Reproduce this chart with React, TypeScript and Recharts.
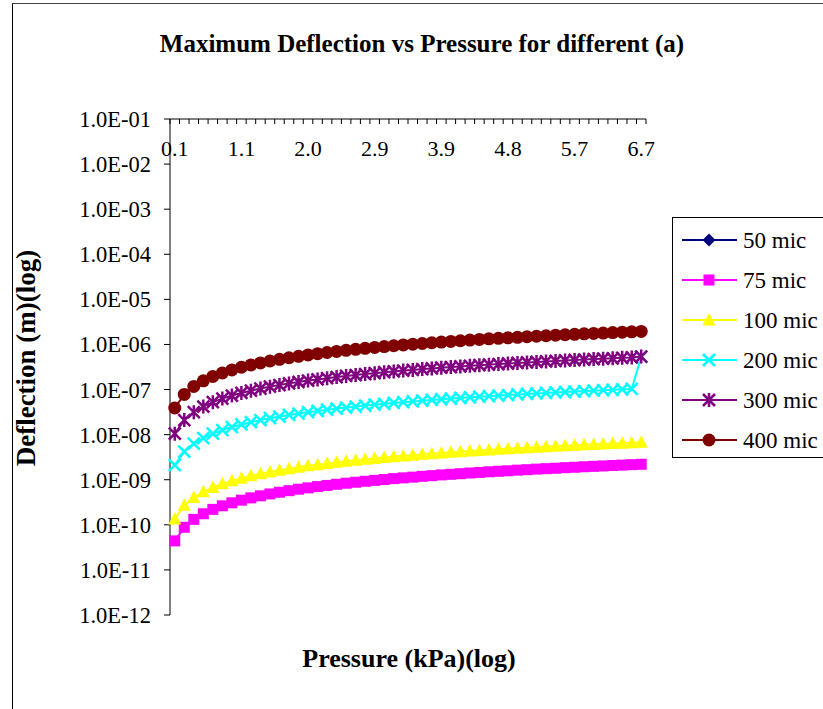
import React from 'react';
import { LineChart, Line, XAxis, YAxis, Legend, Customized } from 'recharts';

// ---------- data ----------
const PRESSURE_KPA = [
  '0.1', '0.3', '0.4', '0.5', '0.7', '0.8', '0.9', '1.1', '1.2', '1.3',
  '1.5', '1.6', '1.7', '1.9', '2.0', '2.1', '2.3', '2.4', '2.5', '2.7',
  '2.8', '2.9', '3.1', '3.2', '3.3', '3.5', '3.6', '3.7', '3.9', '4.0',
  '4.1', '4.3', '4.4', '4.5', '4.7', '4.8', '4.9', '5.1', '5.2', '5.3',
  '5.5', '5.6', '5.7', '5.9', '6.0', '6.1', '6.3', '6.4', '6.5', '6.7',
];

const D_50_MIC: (number | null)[] = [];

const D_75_MIC = [
  4.4e-11, 8.8e-11, 1.32e-10, 1.76e-10, 2.2e-10, 2.64e-10, 3.08e-10, 3.52e-10, 3.96e-10, 4.4e-10,
  4.84e-10, 5.28e-10, 5.72e-10, 6.16e-10, 6.6e-10, 7.04e-10, 7.48e-10, 7.92e-10, 8.36e-10, 8.8e-10,
  9.24e-10, 9.68e-10, 1.01e-9, 1.06e-9, 1.1e-9, 1.14e-9, 1.19e-9, 1.23e-9, 1.28e-9, 1.32e-9,
  1.36e-9, 1.41e-9, 1.45e-9, 1.5e-9, 1.54e-9, 1.58e-9, 1.63e-9, 1.67e-9, 1.72e-9, 1.76e-9,
  1.8e-9, 1.85e-9, 1.89e-9, 1.94e-9, 1.98e-9, 2.02e-9, 2.07e-9, 2.11e-9, 2.16e-9, 2.2e-9,
];

const D_100_MIC = [
  1.35e-10, 2.7e-10, 4.05e-10, 5.4e-10, 6.75e-10, 8.1e-10, 9.45e-10, 1.08e-9, 1.22e-9, 1.35e-9,
  1.49e-9, 1.62e-9, 1.76e-9, 1.89e-9, 2.03e-9, 2.16e-9, 2.3e-9, 2.43e-9, 2.57e-9, 2.7e-9,
  2.84e-9, 2.97e-9, 3.11e-9, 3.24e-9, 3.38e-9, 3.51e-9, 3.65e-9, 3.78e-9, 3.92e-9, 4.05e-9,
  4.19e-9, 4.32e-9, 4.46e-9, 4.59e-9, 4.73e-9, 4.86e-9, 5.0e-9, 5.13e-9, 5.27e-9, 5.4e-9,
  5.54e-9, 5.67e-9, 5.81e-9, 5.94e-9, 6.08e-9, 6.21e-9, 6.35e-9, 6.48e-9, 6.62e-9, 6.75e-9,
];

const D_200_MIC = [
  2.1e-9, 4.2e-9, 6.3e-9, 8.4e-9, 1.05e-8, 1.26e-8, 1.47e-8, 1.68e-8, 1.89e-8, 2.1e-8,
  2.31e-8, 2.52e-8, 2.73e-8, 2.94e-8, 3.15e-8, 3.36e-8, 3.57e-8, 3.78e-8, 3.99e-8, 4.2e-8,
  4.41e-8, 4.62e-8, 4.83e-8, 5.04e-8, 5.25e-8, 5.46e-8, 5.67e-8, 5.88e-8, 6.09e-8, 6.3e-8,
  6.51e-8, 6.72e-8, 6.93e-8, 7.14e-8, 7.35e-8, 7.56e-8, 7.77e-8, 7.98e-8, 8.19e-8, 8.4e-8,
  8.61e-8, 8.82e-8, 9.03e-8, 9.24e-8, 9.45e-8, 9.66e-8, 9.87e-8, 1.01e-7, 1.03e-7, 5.4e-7,
];

const D_300_MIC = [
  1.05e-8, 2.1e-8, 3.15e-8, 4.2e-8, 5.25e-8, 6.3e-8, 7.35e-8, 8.4e-8, 9.45e-8, 1.05e-7,
  1.16e-7, 1.26e-7, 1.37e-7, 1.47e-7, 1.58e-7, 1.68e-7, 1.79e-7, 1.89e-7, 2.0e-7, 2.1e-7,
  2.21e-7, 2.31e-7, 2.42e-7, 2.52e-7, 2.63e-7, 2.73e-7, 2.84e-7, 2.94e-7, 3.05e-7, 3.15e-7,
  3.26e-7, 3.36e-7, 3.47e-7, 3.57e-7, 3.68e-7, 3.78e-7, 3.89e-7, 3.99e-7, 4.1e-7, 4.2e-7,
  4.31e-7, 4.41e-7, 4.52e-7, 4.62e-7, 4.73e-7, 4.83e-7, 4.94e-7, 5.04e-7, 5.15e-7, 5.4e-7,
];

const D_400_MIC = [
  3.9e-8, 7.8e-8, 1.17e-7, 1.56e-7, 1.95e-7, 2.34e-7, 2.73e-7, 3.12e-7, 3.51e-7, 3.9e-7,
  4.29e-7, 4.68e-7, 5.07e-7, 5.46e-7, 5.85e-7, 6.24e-7, 6.63e-7, 7.02e-7, 7.41e-7, 7.8e-7,
  8.19e-7, 8.58e-7, 8.97e-7, 9.36e-7, 9.75e-7, 1.01e-6, 1.05e-6, 1.09e-6, 1.13e-6, 1.17e-6,
  1.21e-6, 1.25e-6, 1.29e-6, 1.33e-6, 1.37e-6, 1.40e-6, 1.44e-6, 1.48e-6, 1.52e-6, 1.56e-6,
  1.60e-6, 1.64e-6, 1.68e-6, 1.72e-6, 1.76e-6, 1.79e-6, 1.83e-6, 1.87e-6, 1.91e-6, 1.95e-6,
];

const Y_TICKS = [1e-1, 1e-2, 1e-3, 1e-4, 1e-5, 1e-6, 1e-7, 1e-8, 1e-9, 1e-10, 1e-11, 1e-12];
const Y_TICK_LABELS = [
  '1.0E-01', '1.0E-02', '1.0E-03', '1.0E-04', '1.0E-05', '1.0E-06',
  '1.0E-07', '1.0E-08', '1.0E-09', '1.0E-10', '1.0E-11', '1.0E-12',
];

const TITLE = 'Maximum Deflection vs Pressure for different (a)';
const X_TITLE = 'Pressure (kPa)(log)';
const Y_TITLE = 'Deflection (m)(log)';

type Shape = 'diamond' | 'square' | 'triangle' | 'x' | 'star' | 'circle';

const SERIES: { key: string; name: string; color: string; shape: Shape; values: (number | null)[] }[] = [
  { key: 'm50', name: '50 mic', color: '#000080', shape: 'diamond', values: D_50_MIC },
  { key: 'm75', name: '75 mic', color: '#FF00FF', shape: 'square', values: D_75_MIC },
  { key: 'm100', name: '100 mic', color: '#FFFF00', shape: 'triangle', values: D_100_MIC },
  { key: 'm200', name: '200 mic', color: '#00FFFF', shape: 'x', values: D_200_MIC },
  { key: 'm300', name: '300 mic', color: '#800080', shape: 'star', values: D_300_MIC },
  { key: 'm400', name: '400 mic', color: '#800000', shape: 'circle', values: D_400_MIC },
];

const TABLE = PRESSURE_KPA.map((p, i) => {
  const row: Record<string, string | number | null> = { p };
  SERIES.forEach((s) => {
    const v = s.values[i];
    row[s.key] = v === undefined ? null : v;
  });
  return row;
});

// ---------- layout / style ----------
const W = 823;
const H = 709;
const PLOT_LEFT = 170;
const PLOT_TOP = 119;
const PLOT_RIGHT = 646;
const PLOT_BOTTOM = 615;
const X_AXIS_H = 2;
const STEP = (PLOT_RIGHT - PLOT_LEFT) / PRESSURE_KPA.length;
const LABEL_EVERY = 7;
const FONT = "'Liberation Serif', 'Times New Roman', Times, serif";

function Marker({ cx, cy, shape, color }: { cx: number; cy: number; shape: Shape; color: string }) {
  switch (shape) {
    case 'diamond':
      return <polygon points={`${cx},${cy - 6.5} ${cx + 6.5},${cy} ${cx},${cy + 6.5} ${cx - 6.5},${cy}`} fill={color} />;
    case 'square':
      return <rect x={cx - 5.5} y={cy - 5.5} width={11} height={11} fill={color} />;
    case 'triangle':
      return <polygon points={`${cx},${cy - 7} ${cx + 6.5},${cy + 5.5} ${cx - 6.5},${cy + 5.5}`} fill={color} />;
    case 'x':
      return (
        <path
          d={`M${cx - 6},${cy - 6}L${cx + 6},${cy + 6}M${cx + 6},${cy - 6}L${cx - 6},${cy + 6}`}
          stroke={color}
          strokeWidth={2.5}
          fill="none"
        />
      );
    case 'star':
      return (
        <path
          d={`M${cx - 6},${cy - 6}L${cx + 6},${cy + 6}M${cx + 6},${cy - 6}L${cx - 6},${cy + 6}M${cx},${cy - 7}L${cx},${cy + 7}`}
          stroke={color}
          strokeWidth={2.5}
          fill="none"
        />
      );
    case 'circle':
    default:
      return <circle cx={cx} cy={cy} r={6.5} fill={color} />;
  }
}

const makeDot = (s: (typeof SERIES)[number]) => (props: any) => {
  const { cx, cy, index, value } = props;
  const k = `${s.key}-${index}`;
  if (cx == null || cy == null || value == null || (Array.isArray(value) && value[1] == null)) {
    return <g key={k} />;
  }
  return (
    <g key={k}>
      <Marker cx={cx} cy={cy} shape={s.shape} color={s.color} />
    </g>
  );
};

const XTick = (props: any) => {
  const { x, payload } = props;
  const i = payload && payload.index != null ? payload.index : props.index;
  const last = i === PRESSURE_KPA.length - 1;
  return (
    <g>
      <line x1={x - STEP / 2} x2={x - STEP / 2} y1={PLOT_TOP} y2={PLOT_TOP + 5} stroke="#000" />
      {last && <line x1={x + STEP / 2} x2={x + STEP / 2} y1={PLOT_TOP} y2={PLOT_TOP + 5} stroke="#000" />}
      {i % LABEL_EVERY === 0 && (
        <text
          x={x}
          y={PLOT_TOP + 37}
          textAnchor="middle"
          fontSize={22}
          fontFamily={FONT}
          style={{ fontFamily: FONT }}
          fill="#000"
        >
          {payload.value}
        </text>
      )}
    </g>
  );
};

const Titles = () => (
  <g fill="#000" fontWeight="bold" style={{ fontFamily: FONT }}>
    <text x={422} y={52} textAnchor="middle" fontSize={25} fontFamily={FONT}>
      {TITLE}
    </text>
    <text x={409} y={667} textAnchor="middle" fontSize={26} fontFamily={FONT}>
      {X_TITLE}
    </text>
    <text x={35} y={358} textAnchor="middle" fontSize={27} fontFamily={FONT} transform={`rotate(-90 35 358)`}>
      {Y_TITLE}
    </text>
  </g>
);

const LegendBox = () => {
  const rowY0 = 22;
  const rowGap = 40;
  return (
    <div
      style={{
        width: W - 672,
        height: 241,
        boxSizing: 'border-box',
        borderTop: '1px solid #000',
        borderLeft: '1px solid #000',
        borderBottom: '1px solid #000',
        background: '#fff',
        fontFamily: FONT,
      }}
    >
      <svg width={W - 673} height={239} style={{ display: 'block', fontFamily: FONT }}>
        {SERIES.map((s, i) => {
          const y = rowY0 + i * rowGap;
          return (
            <g key={s.key}>
              <line x1={9} x2={64} y1={y} y2={y} stroke={s.color} strokeWidth={2} />
              <Marker cx={36} cy={y} shape={s.shape} color={s.color} />
              <text x={70} y={y + 8} fontSize={23} fontFamily={FONT} style={{ fontFamily: FONT }} fill="#000">
                {s.name}
              </text>
            </g>
          );
        })}
      </svg>
    </div>
  );
};

export default function App() {
  return (
    <div
      style={{
        position: 'absolute',
        left: 0,
        top: 0,
        width: W,
        height: H,
        background: '#fff',
        overflow: 'hidden',
        fontFamily: FONT,
      }}
    >
      <div
        style={{
          position: 'absolute',
          left: 12,
          top: 3,
          width: W - 12,
          height: H - 3,
          borderLeft: '1px solid #000',
          borderTop: '1px solid #444',
          boxSizing: 'border-box',
        }}
      />
      <div style={{ position: 'absolute', left: 0, top: 0 }}>
        <LineChart
          width={W}
          height={H}
          data={TABLE}
          margin={{ top: PLOT_TOP - X_AXIS_H, right: W - PLOT_RIGHT, bottom: H - PLOT_BOTTOM, left: 0 }}
        >
          <XAxis
            dataKey="p"
            orientation="top"
            height={X_AXIS_H}
            interval={0}
            tickLine={false}
            axisLine={{ stroke: '#000' }}
            padding={{ left: STEP / 2, right: STEP / 2 }}
            tick={<XTick />}
          />
          <YAxis
            type="number"
            scale="log"
            domain={[1e-12, 1e-1]}
            ticks={Y_TICKS}
            interval={0}
            allowDataOverflow
            width={PLOT_LEFT}
            tickSize={6}
            tickMargin={13}
            axisLine={{ stroke: '#000' }}
            tickLine={{ stroke: '#000' }}
            tick={{ fontSize: 22.5, fontFamily: FONT, fill: '#000' }}
            tickFormatter={(v: number) => {
              const idx = Y_TICKS.findIndex((t) => Math.abs(Math.log10(t) - Math.log10(v)) < 1e-6);
              return idx >= 0 ? Y_TICK_LABELS[idx] : '';
            }}
          />
          {SERIES.map((s) => (
            <Line
              key={s.key}
              dataKey={s.key}
              name={s.name}
              stroke={s.color}
              strokeWidth={2}
              dot={makeDot(s)}
              activeDot={false}
              isAnimationActive={false}
              connectNulls={false}
            />
          ))}
          <Legend
            layout="vertical"
            align="center"
            verticalAlign="middle"
            wrapperStyle={{ left: 672, top: 217, width: W - 672, height: 241 }}
            content={() => <LegendBox />}
          />
          <Customized component={Titles} />
        </LineChart>
      </div>
    </div>
  );
}
